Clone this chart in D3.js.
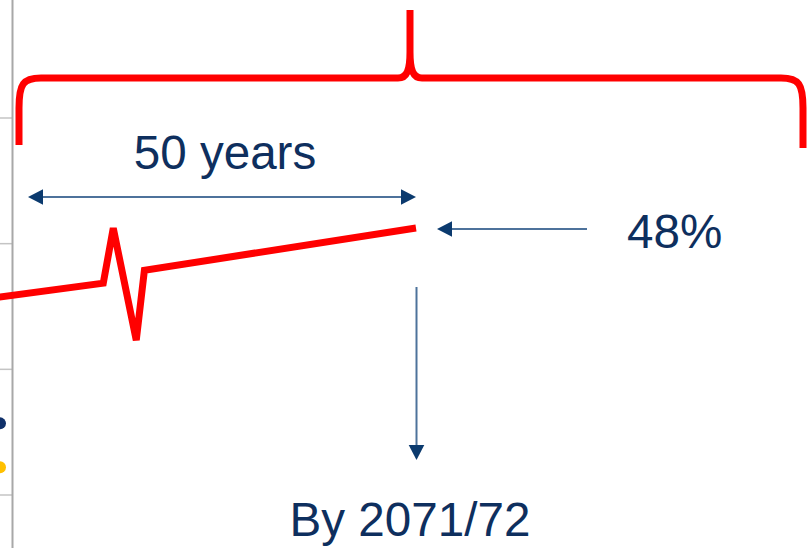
<!DOCTYPE html>
<html>
<head>
<meta charset="utf-8">
<script src="https://cdn.jsdelivr.net/npm/d3@7/dist/d3.min.js"></script>
<style>
  html, body { margin: 0; padding: 0; background: #ffffff; }
  svg { display: block; }
  text { font-family: "Liberation Sans", Arial, sans-serif; }
</style>
</head>
<body>
<svg id="chart" width="807" height="548"></svg>
<script>
// Left panel: gridline values and the last visible points of its series
const panelGrid = [10, 20, 30, 40];
const panelSeries = ["Series A", "Series B"];
const panelLastValue = [15.7, 12.2];

// Share line: observed part, then the projection after the time break
const histYears = [2015, 2030.7];
const histShare = [39.7, 41.6];
const projYears = [2036, 2071];
const projShare = [43.1, 48];

// Annotation span
const spanStart = 2021;
const spanEnd = 2071;
const spanLabel = "50 years";
const targetLabel = "48%";
const byLabel = "By 2071/72";

const W = 807, H = 548;
const RED = "#ff0000";
const NAVY = "#0e2f5e";
const HEAD = "#0b3a6e";
const SHAFT = "#4d729b";
const FONT = 47.6;

const svg = d3.select("#chart");

// Scales
const panelY = d3.scaleLinear().domain([10, 40]).range([495, 118]);
const x = d3.scaleLinear().domain([2021, 2071]).range([28, 416]);
const y = d3.scaleLinear().domain([40, 48]).range([297, 228]);
const panelColor = d3.scaleOrdinal().domain(panelSeries).range(["#10306a", "#ffc000"]);

// Left panel gridlines (ending at the panel border)
svg.append("g").selectAll("line").data(panelGrid).join("line")
  .attr("x1", 0).attr("x2", 12)
  .attr("y1", d => panelY(d)).attr("y2", d => panelY(d))
  .attr("stroke", "#c4c4c4").attr("stroke-width", 1.5);

// Panel series markers, cut by the window edge
svg.append("g").selectAll("circle").data(panelSeries).join("circle")
  .attr("cx", 0)
  .attr("cy", (d, i) => panelY(panelLastValue[i]))
  .attr("r", 6)
  .attr("fill", d => panelColor(d));

// Panel border
svg.append("line")
  .attr("x1", 12.5).attr("x2", 12.5).attr("y1", 0).attr("y2", H)
  .attr("stroke", "#a8a8a8").attr("stroke-width", 2);

// Share line with a zig-zag break glyph between observed and projected parts
const BREAK_UP = { dx: 10, dy: -55 };
const BREAK_DOWN = { dx: 33, dy: 57 };
const histPts = histYears.map((yr, i) => [x(yr), y(histShare[i])]);
const projPts = projYears.map((yr, i) => [x(yr), y(projShare[i])]);
const b0 = histPts[histPts.length - 1];
const breakPts = [
  [b0[0] + BREAK_UP.dx, b0[1] + BREAK_UP.dy],
  [b0[0] + BREAK_DOWN.dx, b0[1] + BREAK_DOWN.dy]
];
const linePts = histPts.concat(breakPts, projPts);

svg.append("path")
  .attr("d", d3.line()(linePts))
  .attr("fill", "none")
  .attr("stroke", RED)
  .attr("stroke-width", 7)
  .attr("stroke-linejoin", "miter")
  .attr("stroke-miterlimit", 3);

// Curly brace across the top
const bL = 19, bR = 803, bTop = 78, bBottomL = 145, bBottomR = 148, peakX = 410, peakY = 10;
const brace = d3.path();
brace.moveTo(bL, bBottomL);
brace.lineTo(bL, bTop + 30);
brace.bezierCurveTo(bL, bTop + 6, bL + 4, bTop, bL + 22, bTop);
brace.lineTo(peakX - 12, bTop);
brace.bezierCurveTo(peakX - 3, bTop, peakX, bTop - 8, peakX, bTop - 26);
brace.lineTo(peakX, peakY);
brace.moveTo(peakX, bTop - 26);
brace.bezierCurveTo(peakX, bTop - 8, peakX + 3, bTop, peakX + 12, bTop);
brace.lineTo(bR - 22, bTop);
brace.bezierCurveTo(bR - 4, bTop, bR, bTop + 6, bR, bTop + 30);
brace.lineTo(bR, bBottomR);
svg.append("path")
  .attr("d", brace.toString())
  .attr("fill", "none")
  .attr("stroke", RED)
  .attr("stroke-width", 7)
  .attr("stroke-linejoin", "round");

// Arrow helpers
const HEAD_LEN = 15, HEAD_HALF = 7.8;
function arrowHead(g, tipX, tipY, angle) {
  const c = Math.cos(angle), s = Math.sin(angle);
  const bx = tipX - HEAD_LEN * c, by = tipY - HEAD_LEN * s;
  const p = [
    [tipX, tipY],
    [bx - HEAD_HALF * s, by + HEAD_HALF * c],
    [bx + HEAD_HALF * s, by - HEAD_HALF * c]
  ];
  g.append("path").attr("d", "M" + p.join("L") + "Z").attr("fill", HEAD);
}
function shaft(g, x1, y1, x2, y2) {
  g.append("line")
    .attr("x1", x1).attr("y1", y1).attr("x2", x2).attr("y2", y2)
    .attr("stroke", SHAFT).attr("stroke-width", 2);
}

const arrows = svg.append("g");

// Double arrow spanning the 50 years
const spanY = 197;
shaft(arrows, x(spanStart) + HEAD_LEN - 2, spanY, x(spanEnd) - HEAD_LEN + 2, spanY);
arrowHead(arrows, x(spanStart), spanY, Math.PI);
arrowHead(arrows, x(spanEnd), spanY, 0);

// Arrow pointing at the projected end value
const endY = y(projShare[projShare.length - 1]) + 1;
const pointX = x(spanEnd) + 21;
shaft(arrows, 587, endY, pointX + HEAD_LEN - 2, endY);
arrowHead(arrows, pointX, endY, Math.PI);

// Arrow down to the target year
shaft(arrows, x(spanEnd) + 0.5, 287, x(spanEnd) + 0.5, 460 - HEAD_LEN + 2);
arrowHead(arrows, x(spanEnd) + 0.5, 460, Math.PI / 2);

// Labels
svg.append("text")
  .attr("x", (x(spanStart) + x(spanEnd)) / 2 + 3).attr("y", 169)
  .attr("text-anchor", "middle")
  .attr("font-size", FONT).attr("fill", NAVY)
  .text(spanLabel);

svg.append("text")
  .attr("x", 627).attr("y", 248)
  .attr("font-size", FONT).attr("fill", NAVY)
  .text(targetLabel);

svg.append("text")
  .attr("x", x(spanEnd) - 6).attr("y", 536)
  .attr("text-anchor", "middle")
  .attr("font-size", FONT).attr("fill", NAVY)
  .text(byLabel);
</script>
</body>
</html>
